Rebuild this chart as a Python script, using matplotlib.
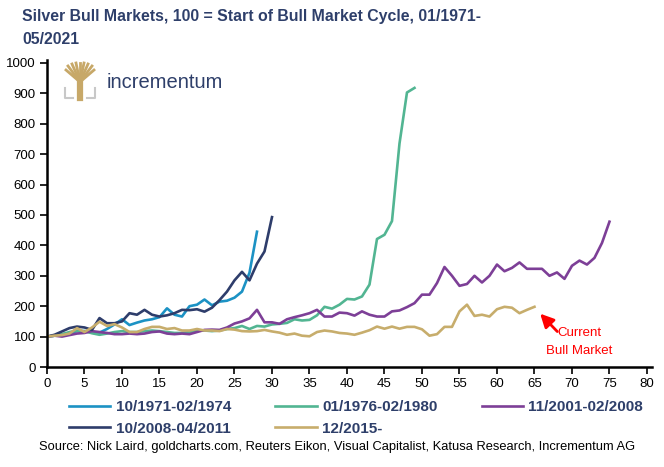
import matplotlib
matplotlib.use('Agg')
import matplotlib.pyplot as plt
from matplotlib.lines import Line2D

plt.rcParams['font.family'] = ['Liberation Sans', 'DejaVu Sans']

NAVY_TEXT = '#2E3F6A'

labels = ['10/1971-02/1974', '01/1976-02/1980', '11/2001-02/2008',
          '10/2008-04/2011', '12/2015-']
colors = ['#1C92C4', '#52B592', '#7D3F97', '#2E3D6B', '#C7AD6C']

bull_1971 = [100, 103, 107, 112, 118, 118, 115, 113, 125, 140, 157, 138, 146, 153,
             157, 164, 193, 172, 166, 200, 205, 222, 203, 215, 218, 228, 248, 310, 445]
bull_1976 = [100, 103, 108, 115, 119, 118, 111, 106, 110, 115, 118, 115, 115, 118,
             120, 118, 115, 112, 112, 115, 120, 120, 118, 120, 125, 128, 135, 125,
             135, 133, 140, 142, 145, 157, 153, 155, 170, 198, 192, 205, 224, 222,
             232, 271, 421, 435, 480, 735, 903, 918]
bull_2001 = [100, 103, 100, 105, 110, 112, 118, 115, 112, 108, 108, 110, 108, 110,
             115, 117, 110, 108, 110, 108, 115, 122, 123, 122, 130, 143, 150, 160,
             188, 147, 147, 142, 157, 164, 170, 177, 188, 166, 166, 179, 177, 169,
             183, 172, 166, 166, 183, 186, 197, 210, 238, 238, 276, 329, 300, 267,
             273, 300, 278, 300, 337, 315, 326, 344, 323, 323, 323, 300, 311, 290,
             333, 350, 337, 359, 408, 478]
bull_2008 = [100, 106, 117, 128, 133, 130, 122, 161, 144, 144, 150, 177, 172, 188,
             172, 166, 170, 177, 188, 187, 190, 182, 195, 220, 248, 285, 313, 285,
             340, 380, 493]
bull_2015 = [100, 103, 105, 110, 128, 115, 130, 149, 135, 141, 130, 115, 115, 125,
             132, 132, 125, 128, 120, 120, 125, 120, 120, 118, 125, 123, 118, 117,
             118, 122, 117, 113, 106, 110, 103, 101, 115, 120, 117, 112, 110, 106,
             113, 121, 133, 126, 133, 126, 132, 132, 124, 103, 108, 132, 132, 183,
             205, 168, 172, 166, 190, 198, 195, 177, 188, 198]

series = [bull_1971, bull_1976, bull_2001, bull_2008, bull_2015]

x_ticks = list(range(0, 81, 5))
y_ticks = list(range(0, 1001, 100))

fig = plt.figure(figsize=(6.64, 4.67), dpi=100)
ax = fig.add_axes([47 / 664, 100 / 467, 605 / 664, 304 / 467])

for vals, col, lab in zip(series, colors, labels):
    ax.plot(range(len(vals)), vals, color=col, lw=1.9, label=lab)

ax.set_xlim(0, 80.67)
ax.set_ylim(0, 1000)
ax.set_xticks(x_ticks)
ax.set_yticks(y_ticks)
ax.tick_params(labelsize=9.5, length=5, width=1.2, direction='out', pad=3)
for s in ['top', 'right']:
    ax.spines[s].set_visible(False)
for s in ['left', 'bottom']:
    ax.spines[s].set_linewidth(1.8)
ax.spines['left'].set_bounds(0, 1010)

# annotation
ax.annotate('', xy=(65.5, 182), xytext=(68.3, 110),
            arrowprops=dict(arrowstyle='-|>', color='red', lw=2,
                            mutation_scale=20))
ax.text(71, 81, 'Current\nBull Market', color='red', fontsize=9.5,
        ha='center', va='center', linespacing=1.65)

# title
fig.text(22 / 664, 1 - 16 / 467, 'Silver Bull Markets, 100 = Start of Bull Market Cycle, 01/1971-',
         fontsize=11.4, fontweight='bold', color=NAVY_TEXT, va='center')
fig.text(22 / 664, 1 - 40 / 467, '05/2021',
         fontsize=11.4, fontweight='bold', color=NAVY_TEXT, va='center')

# logo
lx = 65
gold = '#C7A868'
fig.add_artist(Line2D([(lx + 15) / 664] * 2, [1 - 98 / 467, 1 - 76 / 467],
                      transform=fig.transFigure, color=gold, lw=4.5))
for dx, top in [(-14, 70), (-12, 66), (-8, 64), (-4, 63), (0, 63),
                (4, 63), (8, 64), (12, 66), (14, 70)]:
    fig.add_artist(Line2D([(lx + 15) / 664, (lx + 15 + dx) / 664],
                          [1 - 82 / 467, 1 - top / 467],
                          transform=fig.transFigure, color=gold, lw=2))
for xs in [(lx, lx, lx + 8), (lx + 30, lx + 30, lx + 22)]:
    fig.add_artist(Line2D([v / 664 for v in xs],
                          [1 - 88 / 467, 1 - 98 / 467, 1 - 98 / 467],
                          transform=fig.transFigure, color='#C8C8C8', lw=1.5))
fig.text(107 / 664, 1 - 83 / 467, 'incrementum', fontsize=14.5, color=NAVY_TEXT,
         va='center')

# legend
handles, labs = ax.get_legend_handles_labels()
order = [0, 3, 1, 4, 2]
leg = fig.legend([handles[i] for i in order], [labs[i] for i in order],
                 loc='center', bbox_to_anchor=(356 / 664, 1 - 418 / 467), ncol=3,
                 frameon=False, handlelength=2.7, handletextpad=0.35,
                 columnspacing=2.9, labelspacing=0.5,
                 prop={'size': 11, 'weight': 'bold'})
for t in leg.get_texts():
    t.set_color(NAVY_TEXT)

fig.text(337 / 664, 1 - 447 / 467,
         'Source: Nick Laird, goldcharts.com, Reuters Eikon, Visual Capitalist, Katusa Research, Incrementum AG',
         fontsize=9.3, ha='center', va='center', color='black')

fig.savefig('out.png', dpi=100)
